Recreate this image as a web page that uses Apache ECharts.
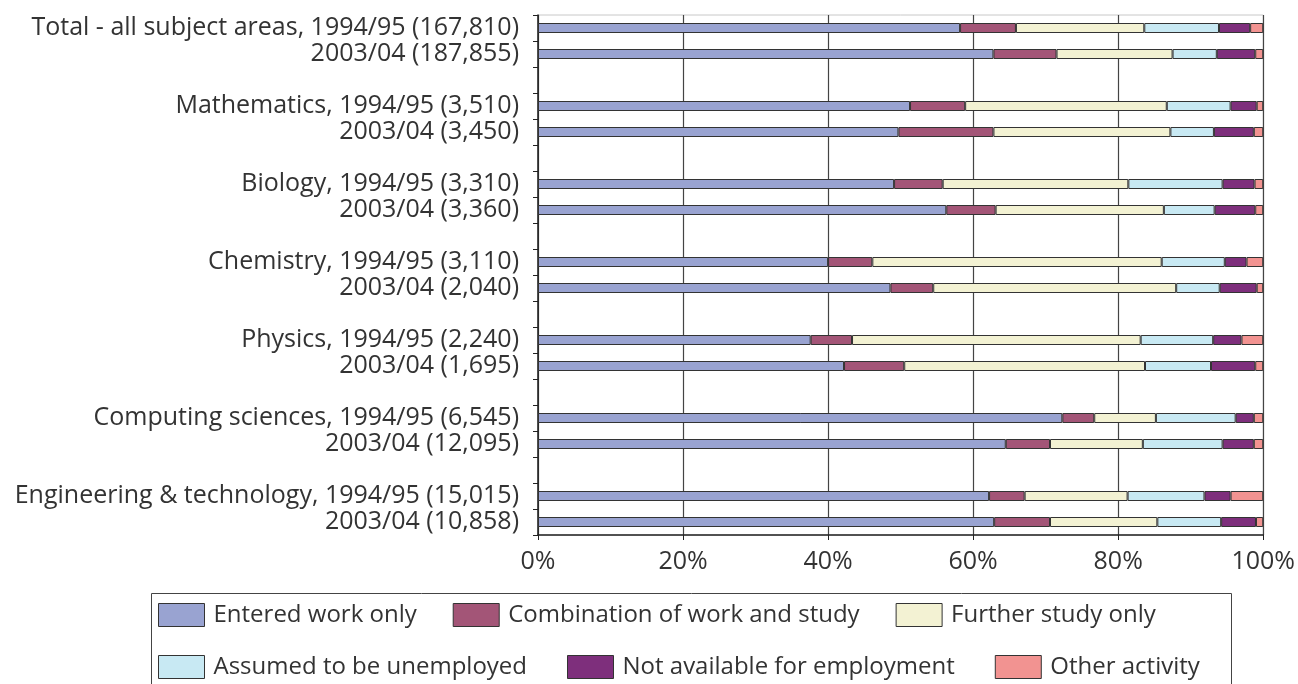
<!DOCTYPE html>
<html>
<head>
<meta charset="utf-8">
<script src="https://cdn.jsdelivr.net/npm/echarts@6/dist/echarts.min.js"></script>
<style>
html,body{margin:0;padding:0;background:#fff;}
#chart{width:1298px;height:684px;}
</style>
</head>
<body>
<div id="chart"></div>
<script>
// Categories (empty strings are spacer rows between subject groups)
var categories = [
  'Total - all subject areas, 1994/95 (167,810)', '2003/04 (187,855)', '',
  'Mathematics, 1994/95 (3,510)', '2003/04 (3,450)', '',
  'Biology, 1994/95 (3,310)', '2003/04 (3,360)', '',
  'Chemistry, 1994/95 (3,110)', '2003/04 (2,040)', '',
  'Physics, 1994/95 (2,240)', '2003/04 (1,695)', '',
  'Computing sciences, 1994/95 (6,545)', '2003/04 (12,095)', '',
  'Engineering & technology, 1994/95 (15,015)', '2003/04 (10,858)'
];
var seriesNames = ['Entered work only', 'Combination of work and study', 'Further study only',
  'Assumed to be unemployed', 'Not available for employment', 'Other activity'];
var enteredWork = [58.2, 62.8, null, 51.3, 49.7, null, 49.1, 56.3, null, 40.0, 48.6, null, 37.6, 42.2, null, 72.3, 64.5, null, 62.2, 62.9];
var workAndStudy = [7.7, 8.7, null, 7.6, 13.1, null, 6.7, 6.8, null, 6.1, 5.9, null, 5.7, 8.3, null, 4.4, 6.1, null, 4.9, 7.7];
var furtherStudy = [17.7, 16.0, null, 27.8, 24.4, null, 25.6, 23.2, null, 39.9, 33.5, null, 39.8, 33.2, null, 8.5, 12.8, null, 14.2, 14.8];
var unemployed = [10.3, 6.1, null, 8.8, 6.0, null, 13.0, 7.0, null, 8.7, 6.0, null, 10.0, 9.1, null, 11.0, 11.0, null, 10.6, 8.8];
var notAvailable = [4.3, 5.3, null, 3.6, 5.5, null, 4.4, 5.6, null, 3.0, 5.1, null, 3.9, 6.1, null, 2.5, 4.3, null, 3.6, 4.8];
var otherActivity = [1.8, 1.1, null, 0.9, 1.3, null, 1.2, 1.1, null, 2.3, 0.9, null, 3.0, 1.1, null, 1.3, 1.3, null, 4.5, 1.0];
var xTicks = [0, 20, 40, 60, 80, 100];

var colors = ['#99a3d1', '#a35577', '#f3f2d3', '#c8e9f3', '#7e2f7c', '#f29391'];
var allData = [enteredWork, workAndStudy, furtherStudy, unemployed, notAvailable, otherActivity];
var FONT = '"Open Sans", "Noto Sans", sans-serif';

var chart = echarts.init(document.getElementById('chart'), null, {renderer: 'canvas'});

var series = seriesNames.map(function (n, i) {
  return {
    name: n,
    type: 'bar',
    stack: 'total',
    barWidth: 10,
    data: allData[i],
    itemStyle: {color: colors[i], borderColor: '#333', borderWidth: 1},
    emphasis: {disabled: true},
    animation: false
  };
});

function legendCfg(names, top, gap) {
  return {
    data: names,
    left: 158,
    top: top,
    orient: 'horizontal',
    padding: 0,
    itemWidth: 46,
    itemHeight: 23,
    itemGap: gap,
    icon: 'rect',
    selectedMode: false,
    itemStyle: {borderColor: '#333', borderWidth: 1},
    textStyle: {fontFamily: FONT, fontSize: 24, color: '#333', lineHeight: 23, padding: [0, 0, 0, 4]}
  };
}

chart.setOption({
  animation: false,
  color: colors,
  grid: {left: 538, right: 30, top: 15, bottom: 149, containLabel: false,
         show: true, borderColor: '#c8c8c8', borderWidth: 1},
  xAxis: {
    type: 'value', min: xTicks[0], max: xTicks[xTicks.length - 1], interval: 20,
    axisLine: {show: true, lineStyle: {color: '#222', width: 1.5}},
    axisTick: {show: true, length: 5, lineStyle: {color: '#222'}},
    axisLabel: {formatter: '{value}%', fontFamily: FONT, fontSize: 25, color: '#333', margin: 14},
    splitLine: {show: true, lineStyle: {color: '#444', width: 1.2}}
  },
  yAxis: {
    type: 'category', data: categories, inverse: true,
    axisLine: {show: true, lineStyle: {color: '#222', width: 1.5}},
    axisTick: {show: true, length: 5, interval: 0, lineStyle: {color: '#222'}},
    axisLabel: {interval: 0, fontFamily: FONT, fontSize: 25, color: '#333', margin: 19}
  },
  legend: [legendCfg(seriesNames.slice(0, 3), 603, 36), legendCfg(seriesNames.slice(3), 655, 40)],
  graphic: [{
    type: 'rect', left: 149, top: 591, silent: true,
    shape: {width: 1080, height: 120},
    style: {fill: 'none', stroke: '#444', lineWidth: 1}
  }],
  series: series
});
</script>
</body>
</html>
